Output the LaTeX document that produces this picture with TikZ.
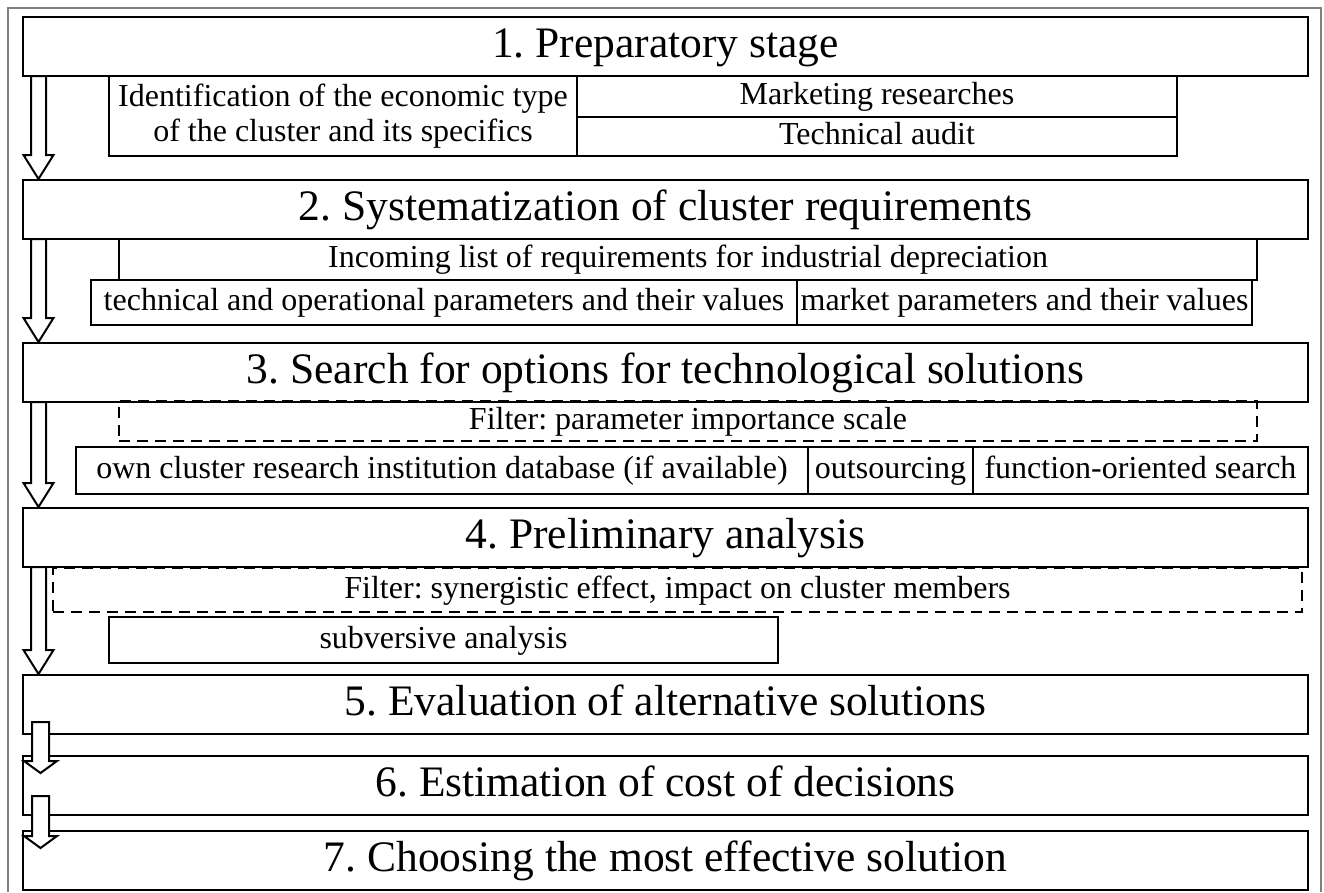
\documentclass[tikz,border=0pt]{standalone}
\usepackage{fontspec}
\setmainfont{Liberation Serif}
\frenchspacing
\usetikzlibrary{positioning, calc}

\tikzset{
    stagebox/.style={draw, line width=2.4pt, minimum width=1285pt, minimum height=59pt, inner sep=0pt, outer sep=0pt, anchor=north west,
        text height=31pt, text depth=9pt, font=\fontsize{43.5}{50}\selectfont},
    subbox/.style={draw, line width=1.8pt, inner sep=0pt, outer sep=0pt, text height=23pt, text depth=7pt, font=\fontsize{32}{35}\selectfont},
    filterbox/.style={subbox, dash pattern=on 11pt off 7pt},
    hollow/.style={draw, fill=white, line width=2pt},
    pageframe/.style={draw=gray, line width=1.2pt},
}

% start, tip, half shaft, half head, head length
\newcommand{\hollowdown}[5]{%
    \draw[hollow] let \p1=#1, \p2=#2 in
        (\x1-#3,\y1) -- (\x1-#3,\y2+#5) -- (\x1-#4,\y2+#5) -- (\x1,\y2)
        -- (\x1+#4,\y2+#5) -- (\x1+#3,\y2+#5) -- (\x1+#3,\y1) -- cycle;}

\begin{document}
\begin{tikzpicture}[x=1pt, y=-1pt]
    \useasboundingbox (0,0) rectangle (1324,892);
    \draw[pageframe] (8,892) -- (8,8) -- (1321,8) -- (1321,892);

    % stages
    \node[stagebox] (s1) at (23,17) {1. Preparatory stage};
    \node[stagebox] (s2) at (23,180) {2. Systematization of cluster requirements};
    \node[stagebox] (s3) at (23,343) {3. Search for options for technological solutions};
    \node[stagebox] (s4) at (23,508) {4. Preliminary analysis};
    \node[stagebox] (s5) at (23,675) {5. Evaluation of alternative solutions};
    \node[stagebox] (s6) at (23,756) {6. Estimation of cost of decisions};
    \node[stagebox] (s7) at (23,831) {7. Choosing the most effective solution};

    % stage 1
    \node[subbox, anchor=north west, minimum width=468pt, minimum height=80pt, align=center, text height=, text depth=] (ident) at (109,76)
        {Identification of the economic type\\of the cluster and its specifics};
    \node[subbox, anchor=north west, minimum width=600pt, minimum height=41pt] (market) at (577,76) {Marketing researches};
    \node[subbox, below=0pt of market, minimum width=600pt, minimum height=39pt] (audit) {Technical audit};

    % stage 2
    \node[subbox, anchor=north west, minimum width=1138pt, minimum height=41pt] (incoming) at (119,239)
        {Incoming list of requirements for industrial depreciation};
    \node[subbox, anchor=north west, minimum width=706pt, minimum height=45pt] (techpar) at (91,280)
        {technical and operational parameters and their values};
    \node[subbox, right=0pt of techpar, minimum width=455pt, minimum height=45pt] (marketpar)
        {market parameters and their values};

    % stage 3
    \node[filterbox, anchor=north west, minimum width=1138pt, minimum height=40pt] (filter1) at (119,401)
        {Filter: parameter importance scale};
    \node[subbox, anchor=north west, minimum width=732pt, minimum height=47pt] (own) at (76,447)
        {own cluster research institution database (if available)};
    \node[subbox, right=0pt of own, minimum width=165pt, minimum height=47pt] (outsrc) {outsourcing};
    \node[subbox, right=0pt of outsrc, minimum width=335pt, minimum height=47pt] (funcsearch) {function-oriented search};

    % stage 4
    \node[filterbox, anchor=north west, minimum width=1249pt, minimum height=44pt] (filter2) at (53,568)
        {Filter: synergistic effect, impact on cluster members};
    \node[subbox, anchor=north west, minimum width=669pt, minimum height=46pt] (subv) at (109,617)
        {subversive analysis};

    % arrows
    \foreach \a/\b in {s1/s2, s2/s3, s3/s4, s4/s5}
        \hollowdown{([xshift=15.5pt]\a.south west)}{([xshift=15.5pt, yshift=1pt]\b.north west)}{7.5pt}{15pt}{24pt};
    \hollowdown{([xshift=17.5pt, yshift=12pt]s5.south west)}{([xshift=17.5pt, yshift=-17pt]s6.north west)}{8.5pt}{16.5pt}{12pt}
    \hollowdown{([xshift=17.5pt, yshift=19pt]s6.south west)}{([xshift=17.5pt, yshift=-17pt]s7.north west)}{8.5pt}{16.5pt}{12pt}
\end{tikzpicture}
\end{document}
